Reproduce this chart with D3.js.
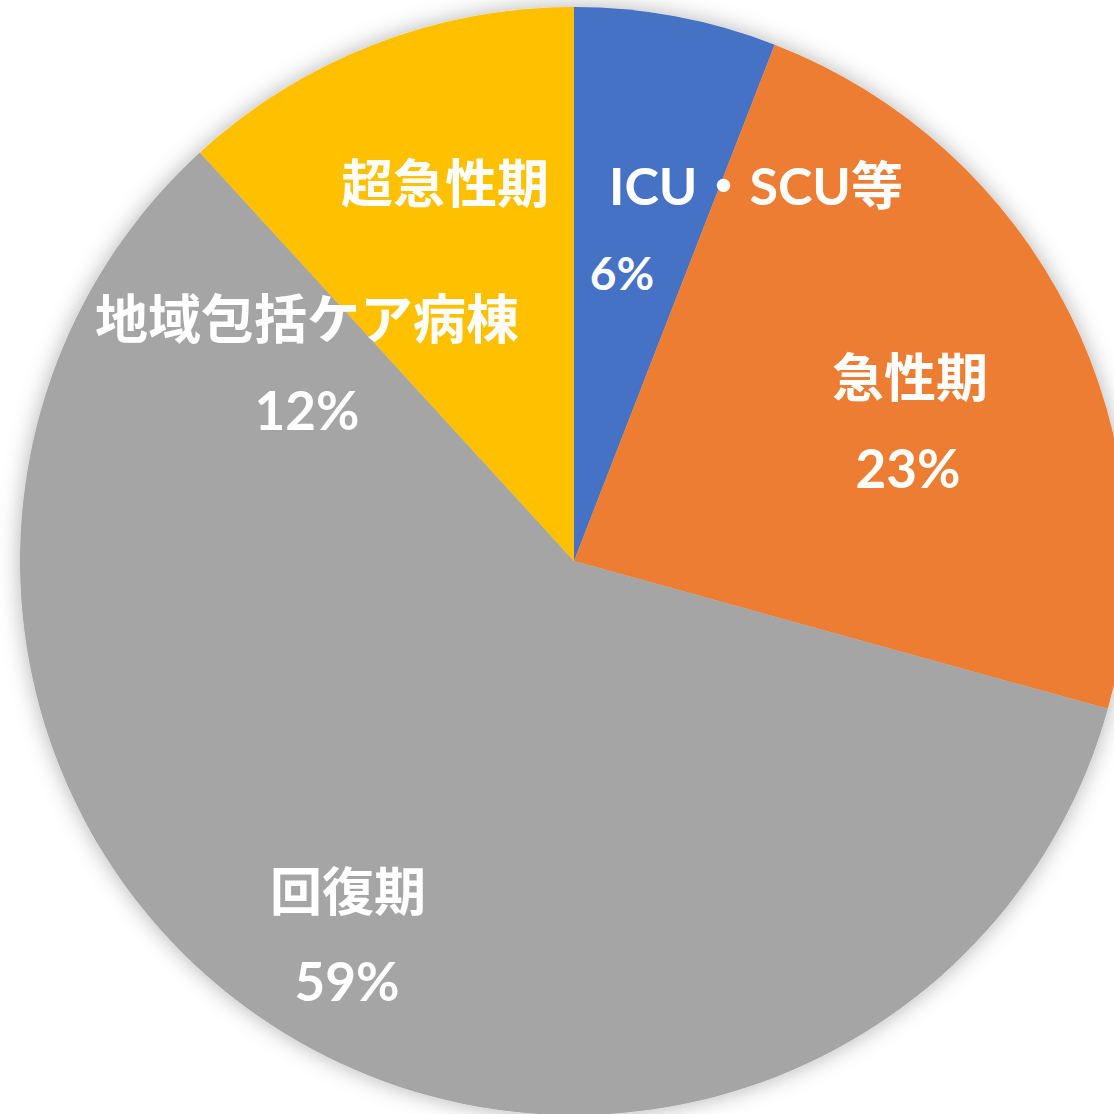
<!DOCTYPE html>
<html>
<head>
<meta charset="utf-8">
<script src="https://cdn.jsdelivr.net/npm/d3@7"></script>
<style>
  html, body { margin: 0; padding: 0; background: #fff; }
  #graph { width: 1114px; height: 1114px; }
  .label { fill: #fff; font-weight: 700; font-family: "Lato", "Noto Sans CJK JP", sans-serif; }
</style>
</head>
<body>
<div id="graph"></div>
<script>
// data
var categories = ["ICU・SCU等", "急性期", "回復期", "地域包括ケア病棟"];
var shares = [5.9, 23.4, 58.9, 11.8];
var pctLabels = ["6%", "23%", "59%", "12%"];
var colors = ["#4472C4", "#ED7D31", "#A5A5A5", "#FFC000"];

var width = 1114, height = 1114;
var cx = 574, cy = 561, radius = 554;

// label layout (centre of each text line, relative to the pie centre)
var labelLayout = [
  { name: [182, -376], nameSize: 52, pct: [48, -289], pctSize: 46 },
  { name: [336, -184], nameSize: 52, pct: [334, -94], pctSize: 53 },
  { name: [-226, 330], nameSize: 52, pct: [-227, 419], pctSize: 53 },
  { name: [-267, -243], nameSize: 53, pct: [-267, -152], pctSize: 53 }
];

var svg = d3.select("#graph").append("svg")
  .attr("width", width)
  .attr("height", height);

var defs = svg.append("defs");
var filter = defs.append("filter")
  .attr("id", "shadow")
  .attr("x", "-10%").attr("y", "-10%")
  .attr("width", "120%").attr("height", "120%");
filter.append("feDropShadow")
  .attr("dx", 0).attr("dy", 0)
  .attr("stdDeviation", 11)
  .attr("flood-color", "#000")
  .attr("flood-opacity", 0.3);

var chartLayer = svg.append("g")
  .attr("transform", "translate(" + [cx, cy] + ")");

var pie = d3.pie().sort(null).value(function(d) { return d; });
var arc = d3.arc().innerRadius(0).outerRadius(radius);
var arcs = pie(shares);

chartLayer.append("g")
  .attr("filter", "url(#shadow)")
  .selectAll("path")
  .data(arcs)
  .enter()
  .append("path")
  .attr("d", arc)
  .attr("fill", function(d, i) { return colors[i]; });

// 超急性期 heading sits in the yellow slice, next to the ICU label
chartLayer.append("text")
  .attr("class", "label")
  .attr("x", -129).attr("y", -378)
  .attr("text-anchor", "middle")
  .attr("dominant-baseline", "central")
  .attr("font-size", 52)
  .text("超急性期");

var labels = chartLayer.selectAll(".lbl")
  .data(arcs)
  .enter()
  .append("g")
  .attr("class", "lbl");

labels.append("text")
  .attr("class", "label")
  .attr("x", function(d, i) { return labelLayout[i].name[0]; })
  .attr("y", function(d, i) { return labelLayout[i].name[1]; })
  .attr("text-anchor", "middle")
  .attr("dominant-baseline", "central")
  .attr("font-size", function(d, i) { return labelLayout[i].nameSize; })
  .text(function(d, i) { return categories[i]; });

labels.append("text")
  .attr("class", "label")
  .attr("x", function(d, i) { return labelLayout[i].pct[0]; })
  .attr("y", function(d, i) { return labelLayout[i].pct[1]; })
  .attr("text-anchor", "middle")
  .attr("dominant-baseline", "central")
  .attr("font-size", function(d, i) { return labelLayout[i].pctSize; })
  .text(function(d, i) { return pctLabels[i]; });
</script>
</body>
</html>
